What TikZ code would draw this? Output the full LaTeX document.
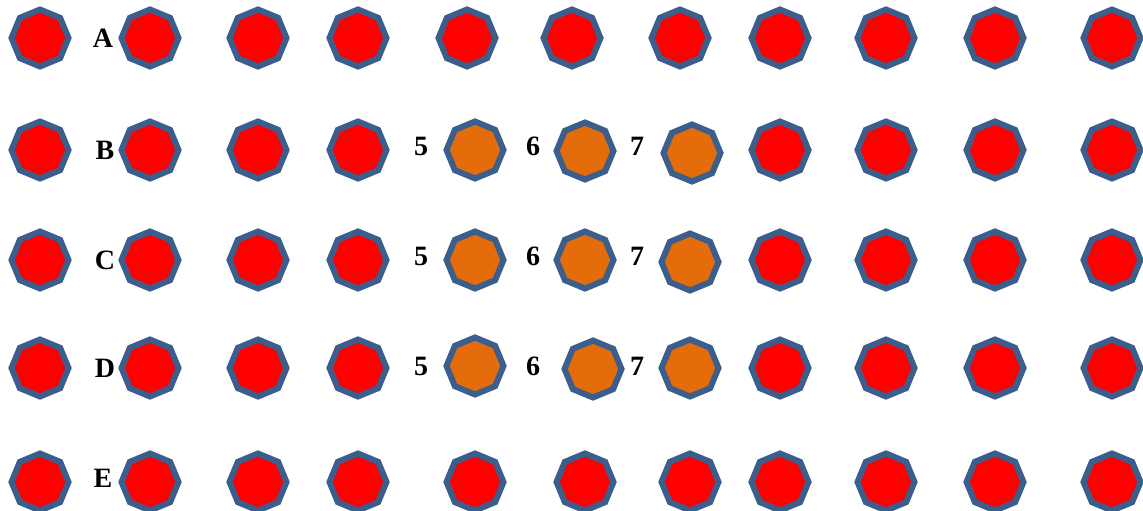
\documentclass[tikz,border=0pt]{standalone}
\usepackage{fontspec}
\setmainfont{Liberation Serif}
\usepackage{xcolor}
\usetikzlibrary{shapes.geometric}
\definecolor{rimblue}{HTML}{3B5E8C}
\definecolor{dotred}{HTML}{FF0000}
\definecolor{dotorange}{HTML}{E46C0A}
\tikzset{
  well/.style={regular polygon, regular polygon sides=8, rotate=22.5,
    minimum size=57pt, inner sep=0pt, draw=rimblue, line width=6pt, fill=dotred},
  lit/.style={well, fill=dotorange},
  tag/.style={font=\fontsize{28}{32}\selectfont\bfseries, inner sep=0pt}
}

\begin{document}
\begin{tikzpicture}[x=1pt,y=-1pt]
  \useasboundingbox (0,0) rectangle (1143,511);
  % row A
  \foreach \x [count=\i] in {40,150,258,358,467,572,680,780,886,995,1112}
    \node[well] (a\i) at (\x,38) {};
  \node[tag] (la) at (103,38) {A};
  % rows B, C, D
  \foreach \r/\y/\l in {b/150/B,c/260/C,d/368/D} {
    \foreach \x [count=\i] in {40,150,258,358}
      \node[well] (\r\i) at (\x,\y) {};
    \foreach \x [count=\i from 8] in {780,886,995,1112}
      \node[well] (\r\i) at (\x,\y) {};
    \node[tag] (l\r) at (105,\y) {\l};
  }
  \node[lit] (b5) at (475,150) {};
  \node[lit] (b6) at (585,151) {};
  \node[lit] (b7) at (692,153) {};
  \node[lit] (c5) at (475,260) {};
  \node[lit] (c6) at (585,260) {};
  \node[lit] (c7) at (690,262) {};
  \node[lit] (d5) at (475,366) {};
  \node[lit] (d6) at (593,369) {};
  \node[lit] (d7) at (690,368) {};
  % column numbers
  \foreach \r/\y in {b/146,c/256,d/366} {
    \node[tag] (n\r5) at (421,\y) {5};
    \node[tag] (n\r6) at (533,\y) {6};
    \node[tag] (n\r7) at (637,\y) {7};
  }
  % row E
  \foreach \x [count=\i] in {40,150,258,358,475,585,690,780,886,995,1112}
    \node[well] (e\i) at (\x,482) {};
  \node[tag] (le) at (103,478) {E};
\end{tikzpicture}
\end{document}
